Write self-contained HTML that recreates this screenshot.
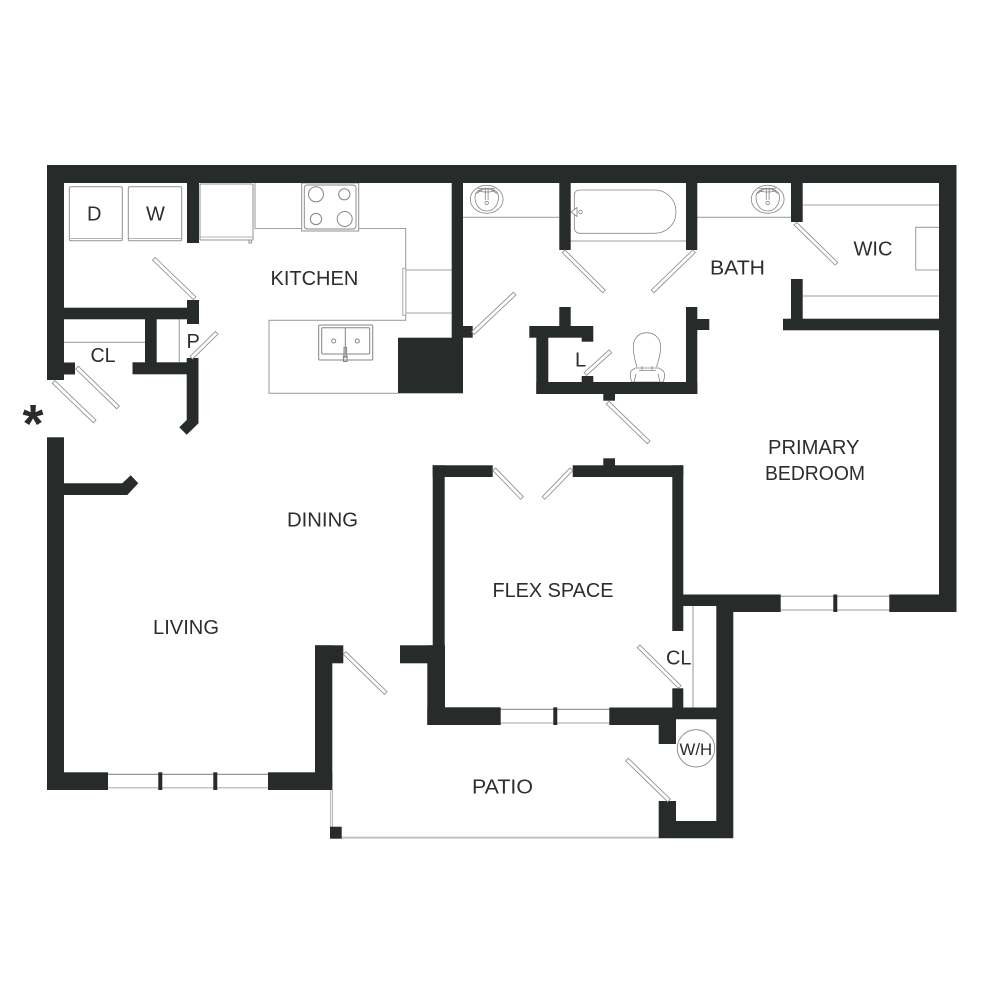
<!DOCTYPE html>
<html><head><meta charset="utf-8"><title>Floor plan</title>
<style>
html,body{margin:0;padding:0;background:#fff}
svg{display:block}
text{font-family:"Liberation Sans",sans-serif;font-size:20px;fill:#2b2e2e}
.w{fill:#272b2a}
.t{fill:none;stroke:#a2a2a2;stroke-width:1.1}
.l{fill:none;stroke:#bdbdbd;stroke-width:1.6}
.d{stroke:#8f8f8f;stroke-width:4.6;fill:none}
.e{stroke:#fff;stroke-width:2.9;fill:none}
.f{fill:none;stroke:#858585;stroke-width:.8}
</style></head><body>
<svg width="1000" height="1000" viewBox="0 0 1000 1000" xmlns="http://www.w3.org/2000/svg">
<rect width="1000" height="1000" fill="#fff"/>

<!-- thin fixture lines -->
<g class="t">
<path d="M255 183V228.5H301.5M359 228.5H405.7V320.3H269V393.3H398"/>
<path d="M405.7 270H452M405.7 313H452"/>
<path d="M64 342.3H145M179.3 319V362M463 217.3H559M697 217.3H791M570 241H686M803 205H939"/>
<path d="M939 227.3H915.7V270H939"/>
<path d="M693 606V707.5"/>
</g>
<path class="l" d="M803 296H939"/>
<rect x="402.8" y="268.3" width="3" height="47" fill="#fff" stroke="#a2a2a2" stroke-width=".9"/>

<!-- D / W / fridge -->
<g fill="#fff" stroke="#929292" stroke-width="1">
<rect x="69.3" y="186.7" width="53" height="54" rx="1.5"/>
<rect x="128.3" y="186.7" width="53.4" height="54" rx="1.5"/>
<rect x="200" y="184" width="53" height="56" rx="1"/>
<rect x="249" y="240" width="2.4" height="3"/>
</g>
<path d="M69.5 238.5H122M128.5 238.5H181.5M200 237H253" stroke="#b5b5b5" stroke-width="1" fill="none"/>

<!-- stove -->
<rect x="301.7" y="183" width="57" height="48" fill="#fff" stroke="#929292" stroke-width="1"/>
<rect x="304.3" y="185" width="51.7" height="44" rx="3" fill="none" stroke="#858585" stroke-width=".9"/>
<g fill="none" stroke="#858585" stroke-width="1">
<circle cx="316" cy="194.3" r="7.5"/><circle cx="344.3" cy="194.3" r="5.6"/>
<circle cx="316" cy="219" r="5.6"/><circle cx="344.7" cy="219" r="7.5"/>
</g>

<!-- kitchen sink -->
<g fill="none" stroke="#858585" stroke-width="1">
<rect x="318.7" y="325" width="54" height="35" rx="1"/>
<rect x="321.7" y="327.7" width="48" height="26.3" rx="1"/>
<path d="M345.3 327.7V354"/>
<circle cx="333.7" cy="341" r="2"/><circle cx="357.3" cy="341" r="2"/>
<rect x="344" y="347.3" width="2.6" height="10"/><rect x="343.5" y="356" width="3.6" height="5.5"/>
</g>

<!-- bath fixtures -->
<g class="f">
<path d="M580 190H654C667 190 676 200 676 212C676 224 667 233.3 654 233.3H580C576.5 233.3 574.3 231 574.3 227.5V195.5C574.3 192 576.5 190 580 190Z"/>
<path d="M571 212L577 207.5V216.5Z" fill="#fff"/>
<circle cx="580.5" cy="212" r="1.8"/>
<ellipse cx="486.7" cy="199.3" rx="16.4" ry="14"/>
<path d="M475 197C475 191 480 189 486.7 189C493.5 189 498.5 191 498.5 197C498.5 205 493.5 211 486.7 211C480 211 475 205 475 197Z"/>
<path d="M478 190.5C482 192.5 491 192.5 495 190.5M476.5 193.5L483 189M497 193.5L490.5 189M478 188.5H495M485.3 187.5V200M488.1 187.5V200"/>
<circle cx="486.7" cy="203" r="1.7"/>
<ellipse cx="767.7" cy="199.3" rx="16.4" ry="14"/>
<path d="M756 197C756 191 761 189 767.7 189C774.5 189 779.5 191 779.5 197C779.5 205 774.5 211 767.7 211C761 211 756 205 756 197Z"/>
<path d="M759 190.5C763 192.5 772 192.5 776 190.5M757.5 193.5L764 189M778 193.5L771.5 189M759 188.5H776M766.3 187.5V200M769.1 187.5V200"/>
<circle cx="767.7" cy="203" r="1.7"/>
<!-- toilet -->
<path d="M637 367C634 358 633.3 352 633.3 347C633.3 338 639 332.7 646.7 332.7C654.5 332.7 660.7 338 660.7 347C660.7 352 659.5 358 656.5 367"/>
<path d="M635 368H659L663.5 371C665 374 665 378 663 382H632C630 378 630 374 631 371Z"/>
<path d="M639 370.5H656M642 366V370M652 366V370M634 382L636 374M660 382L658 374"/>
</g>

<!-- windows -->
<g fill="none">
<path d="M107 774.3H268M500 709.3H610" stroke="#8a8a8a" stroke-width="1.1"/>
<path d="M780 596.3H890M780 610H890" stroke="#b0b0b0" stroke-width="1.3"/>
<path d="M107 787.7H268M500 723H610" stroke="#c4c4c4" stroke-width="1.5"/>
</g>

<!-- patio rail -->
<path d="M330.7 790V827M332.4 790V827" stroke="#a8a8a8" stroke-width=".9" fill="none"/>
<path d="M341 837.6H659" stroke="#c0c0c0" stroke-width="2" fill="none"/>

<!-- walls -->
<g class="w">
<rect x="47" y="165" width="909.5" height="18"/>
<rect x="47" y="165" width="17" height="215"/>
<rect x="64" y="362.5" width="11" height="12"/>
<rect x="939" y="165" width="17.5" height="447"/>
<rect x="187" y="183" width="12" height="60"/>
<rect x="64" y="307.7" width="135" height="11.6"/>
<rect x="187" y="300" width="12" height="24"/>
<rect x="145" y="319" width="11.7" height="44"/>
<rect x="132.5" y="362.3" width="66" height="12"/>
<polygon points="186.7,358 198.5,358 198.5,423.3 186.7,434.7 179.3,427.3 186.7,420"/>
<rect x="47" y="437.3" width="17" height="352.7"/>
<polygon points="64,483.3 122.3,483.3 130.7,475.3 138.3,483.3 127.3,495 64,495"/>
<rect x="47" y="772.3" width="61" height="17.7"/>
<rect x="268" y="772.3" width="64.3" height="17.7"/>
<rect x="315" y="645.3" width="17.3" height="144.7"/>
<rect x="315" y="645.3" width="28.3" height="18"/>
<rect x="158.3" y="772.3" width="4" height="17.7"/>
<rect x="213.3" y="772.3" width="4" height="17.7"/>
<rect x="330" y="826.7" width="11.7" height="12"/>

<rect x="451.7" y="165" width="11.3" height="228"/>
<rect x="463" y="326" width="9.7" height="11.7"/>
<rect x="398" y="337.7" width="65" height="55.6"/>
<rect x="559.3" y="165" width="11.4" height="85"/>
<rect x="686" y="165" width="11.3" height="85"/>
<rect x="791" y="165" width="11.7" height="57"/>
<rect x="791" y="279" width="11.7" height="40"/>
<rect x="783" y="318.7" width="157" height="11.6"/>

<rect x="559.3" y="307" width="11.4" height="20"/>
<rect x="529.3" y="326" width="64" height="11.7"/>
<rect x="581.7" y="337" width="11.6" height="4.7"/>
<rect x="536.3" y="337" width="12" height="57"/>
<rect x="536.3" y="382" width="161" height="12"/>
<rect x="686" y="307" width="11.3" height="87"/>
<rect x="697" y="319" width="12.3" height="11"/>
<rect x="581.7" y="376" width="11.6" height="7"/>
<rect x="603.3" y="393" width="11.7" height="7.7"/>

<rect x="432.7" y="465.3" width="60" height="11.7"/>
<rect x="432.7" y="465.3" width="12" height="200"/>
<rect x="572.7" y="465.3" width="110.6" height="11.7"/>
<rect x="603.3" y="458.3" width="11.7" height="8"/>
<rect x="672.3" y="465.3" width="11" height="165.7"/>
<rect x="400" y="645.3" width="35" height="18"/>
<rect x="427.3" y="645.3" width="17.7" height="79.7"/>
<rect x="427.3" y="707.3" width="73.4" height="17.7"/>
<rect x="553.3" y="707.3" width="4" height="17.7"/>
<polygon points="609.3,707.5 716.5,707.5 716.5,719.3 676,719.3 676,744 658.7,744 658.7,725 609.3,725"/>
<rect x="672.3" y="688.3" width="11" height="20"/>
<polygon points="683,594.5 780.7,594.5 780.7,612 733.3,612 733.3,838.3 658.7,838.3 658.7,801 676,801 676,821 716.3,821 716.3,606 683,606"/>
<rect x="833.3" y="594.5" width="4" height="17.5"/>
<rect x="889.3" y="594.5" width="67.2" height="17.5"/>
</g>

<!-- doors -->
<g class="d">
<path d="M153.5 258.5L195 298.5"/>
<path d="M191 358L217 332.5"/>
<path d="M76.7 367.3L118.3 407.7"/>
<path d="M53.3 381.7L95 421.7"/>
<path d="M472.7 333.3L515 293.3"/>
<path d="M563.3 251L604.3 291.7"/>
<path d="M694.3 251L652.3 291.7"/>
<path d="M795 223.3L836.7 264"/>
<path d="M585 374.3L610.7 351"/>
<path d="M607.3 402.3L649 442.7"/>
<path d="M494 469L522.3 498.3"/>
<path d="M571.7 469L543.3 498.3"/>
<path d="M344.3 652.7L386 693.3"/>
<path d="M638.3 646L680 687.3"/>
<path d="M626.7 759.3L669.3 800.7"/>
</g>
<g class="e">
<path d="M154.1 259.1L194.4 297.9"/>
<path d="M191.6 357.4L216.4 333.1"/>
<path d="M77.3 367.9L117.7 407.1"/>
<path d="M53.9 382.3L94.4 421.1"/>
<path d="M473.3 332.7L514.4 293.9"/>
<path d="M563.9 251.6L603.7 291.1"/>
<path d="M693.7 251.6L652.9 291.1"/>
<path d="M795.6 223.9L836.1 263.4"/>
<path d="M585.6 373.7L610.1 351.6"/>
<path d="M607.9 402.9L648.4 442.1"/>
<path d="M494.6 469.6L521.7 497.7"/>
<path d="M571.1 469.6L543.9 497.7"/>
<path d="M344.9 653.3L385.4 692.7"/>
<path d="M638.9 646.6L679.4 686.7"/>
<path d="M627.3 759.9L668.7 800.1"/>
</g>

<!-- water heater -->
<circle cx="696" cy="748.3" r="18.7" fill="#fff" stroke="#929292" stroke-width="1"/>

<!-- labels -->
<text x="87" y="220.3">D</text>
<text x="146" y="220.3">W</text>
<text x="270.5" y="285">KITCHEN</text>
<text x="90.5" y="362" textLength="25" lengthAdjust="spacingAndGlyphs">CL</text>
<text x="186.5" y="348">P</text>
<text x="710" y="274.3" textLength="55" lengthAdjust="spacingAndGlyphs">BATH</text>
<text x="853.5" y="255.3" textLength="39" lengthAdjust="spacingAndGlyphs">WIC</text>
<text x="575" y="366.7">L</text>
<text x="768" y="454" textLength="91.5" lengthAdjust="spacingAndGlyphs">PRIMARY</text>
<text x="765" y="480" textLength="100" lengthAdjust="spacingAndGlyphs">BEDROOM</text>
<text x="287" y="526.5" textLength="71" lengthAdjust="spacingAndGlyphs">DINING</text>
<text x="153" y="634" textLength="66" lengthAdjust="spacingAndGlyphs">LIVING</text>
<text x="492.5" y="597" textLength="121" lengthAdjust="spacingAndGlyphs">FLEX SPACE</text>
<text x="472" y="793.3" textLength="61" lengthAdjust="spacingAndGlyphs">PATIO</text>
<text x="666" y="664.3" textLength="25.5" lengthAdjust="spacingAndGlyphs">CL</text>
<text x="679.5" y="755" style="font-size:16.8px">W/H</text>
<text x="33" y="442" text-anchor="middle" style="font-size:54px;font-weight:bold;fill:#272b2a">*</text>
</svg>
</body></html>
